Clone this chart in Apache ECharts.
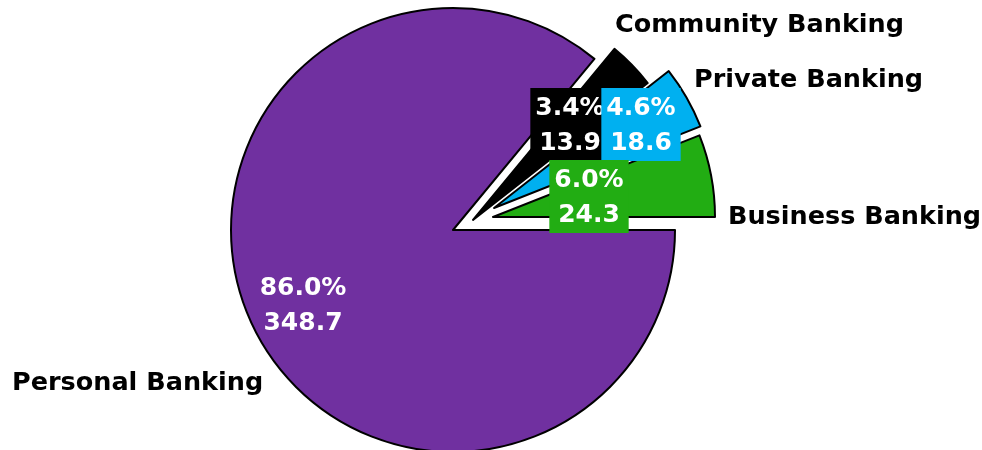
<!DOCTYPE html>
<html>
<head>
<meta charset="utf-8">
<script src="https://cdn.jsdelivr.net/npm/echarts@6/dist/echarts.min.js"></script>
<style>
html,body{margin:0;padding:0;background:#fff;}
#chart{width:982px;height:450px;}
</style>
</head>
<body>
<div id="chart"></div>
<script>
// ---- data ----
const categories = ['Personal Banking', 'Community Banking', 'Private Banking', 'Business Banking'];
const values = [348.7, 13.9, 18.6, 24.3];
const colors = ['#7030A0', '#000000', '#00B0F0', '#22AD13'];

// ---- layout ----
const baseCenter = [453, 230];
const radius = 222;
const explodeOffsets = [[0, 0], [20, -10], [41, -22], [40, -13]];
const valueLabelPos = [[303, 268], [570, 88], [641, 88], [589, 160]];
const nameLabelPos = [[12, 383, 'left'], [615, 25, 'left'], [694, 80, 'left'], [728, 217, 'left']];
const FONT = 'DejaVu Sans';

const chart = echarts.init(document.getElementById('chart'), null, { renderer: 'canvas' });

function sliceSeries(owner) {
  return {
    type: 'pie',
    z: 2,
    silent: true,
    animation: false,
    startAngle: 0,
    clockwise: true,
    avoidLabelOverlap: false,
    center: [baseCenter[0] + explodeOffsets[owner][0], baseCenter[1] + explodeOffsets[owner][1]],
    radius: [0, radius],
    label: { show: false },
    labelLine: { show: false },
    emphasis: { disabled: true },
    data: categories.map((name, i) => ({
      name: name,
      value: values[i],
      itemStyle: i === owner
        ? { color: colors[i], borderColor: '#000', borderWidth: 2 }
        : { color: 'rgba(0,0,0,0)', borderWidth: 0 }
    }))
  };
}

const valueLabelSeries = {
  type: 'pie',
  z: 10,
  silent: true,
  animation: false,
  startAngle: 0,
  clockwise: true,
  avoidLabelOverlap: false,
  center: baseCenter,
  radius: [0, radius],
  labelLine: { show: false },
  emphasis: { disabled: true },
  data: categories.map((name, i) => ({
    name: name,
    value: values[i],
    itemStyle: { color: 'rgba(0,0,0,0)', borderWidth: 0 },
    label: {
      show: true,
      position: 'inside',
      backgroundColor: i === 0 ? 'transparent' : colors[i],
      color: '#fff',
      fontFamily: FONT,
      fontWeight: 'bold',
      fontSize: 25,
      lineHeight: 35,
      padding: [3, 5, 0, 5],
      formatter: p => p.percent.toFixed(1) + '%\n' + p.value.toFixed(1)
    }
  })),
  labelLayout: p => ({
    x: valueLabelPos[p.dataIndex][0],
    y: valueLabelPos[p.dataIndex][1],
    align: 'center',
    verticalAlign: 'top'
  })
};

const nameLabelSeries = {
  type: 'pie',
  z: 10,
  silent: true,
  animation: false,
  startAngle: 0,
  clockwise: true,
  avoidLabelOverlap: false,
  center: baseCenter,
  radius: [0, radius],
  labelLine: { show: false },
  emphasis: { disabled: true },
  itemStyle: { color: 'rgba(0,0,0,0)', borderWidth: 0 },
  label: {
    show: true,
    position: 'outside',
    color: '#000',
    fontFamily: FONT,
    fontWeight: 'bold',
    fontSize: 25.5,
    formatter: '{b}'
  },
  data: categories.map((name, i) => ({ name: name, value: values[i] })),
  labelLayout: p => ({
    x: nameLabelPos[p.dataIndex][0],
    y: nameLabelPos[p.dataIndex][1],
    align: nameLabelPos[p.dataIndex][2],
    verticalAlign: 'middle'
  })
};

chart.setOption({
  animation: false,
  backgroundColor: '#ffffff',
  series: [sliceSeries(0), sliceSeries(1), sliceSeries(2), sliceSeries(3), valueLabelSeries, nameLabelSeries]
});
</script>
</body>
</html>
